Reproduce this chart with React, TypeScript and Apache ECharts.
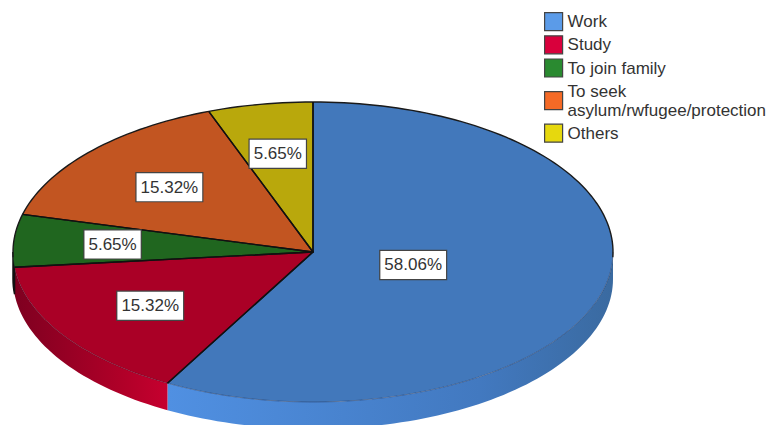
import React, { useEffect, useRef } from "react";
import * as echarts from "echarts";

const categories = ["Work", "Study", "To join family", "To seek\nasylum/rwfugee/protection", "Others"];
const percentages = [58.06, 15.32, 5.65, 15.32, 5.65];
const percentLabels = ["58.06%", "15.32%", "5.65%", "15.32%", "5.65%"];
const labelRadiusFractions = [0.345, 0.65, 0.67, 0.645, 0.665];
const topColors = ["#4278BB", "#AA0026", "#20661F", "#C25521", "#B9A80C"];
const legendColors = ["#5B9BE8", "#D9003C", "#2A8A30", "#F56A26", "#E6D80E"];
const wallStops = [
  ["#5090E2", "#4279C0", "#3A6AA0"],
  ["#7E0020", "#B00028", "#C6002F"],
  ["#111111", "#111111", "#111111"],
  ["#8A3A12", "#8A3A12", "#8A3A12"],
  ["#827608", "#827608", "#827608"],
];

const CX = 313;
const CY = 252;
const RX = 300;
const RY = 150;
const DEPTH = 27;

const total = percentages.reduce((a, b) => a + b, 0);
const rim = (deg: number, dy = 0): number[] => {
  const r = (deg * Math.PI) / 180;
  return [CX + RX * Math.sin(r), CY - RY * Math.cos(r) + dy];
};
const arc = (a: number, b: number, dy = 0): number[][] => {
  const pts: number[][] = [];
  const n = Math.max(1, Math.ceil((b - a) / 1.5));
  for (let i = 0; i <= n; i++) pts.push(rim(a + ((b - a) * i) / n, dy));
  return pts;
};

const sliceSeries = (index: number) => {
  const start = (percentages.slice(0, index).reduce((a, b) => a + b, 0) / total) * 360;
  const end = start + (percentages[index] / total) * 360;
  const mid = (start + end) / 2;
  const renderItem = () => {
    const children: any[] = [];
    // side wall, only on the front half of the disc
    const wa = Math.max(start, 90);
    const wb = Math.min(end, 270);
    if (wb > wa) {
      const upper = arc(wa, wb);
      const lower = arc(wa, wb, DEPTH).reverse();
      const x0 = Math.min(rim(wa)[0], rim(wb)[0]);
      const x1 = Math.max(rim(wa)[0], rim(wb)[0]);
      const isNarrow = wb - wa < 10;
      children.push({
        type: "polygon",
        z2: 0,
        shape: { points: upper.concat(lower) },
        style: {
          fill: new echarts.graphic.LinearGradient(x0, 0, x1, 0, [
            { offset: 0, color: wallStops[index][0] },
            { offset: 0.7, color: wallStops[index][1] },
            { offset: 1, color: wallStops[index][2] },
          ], true),
          stroke: isNarrow ? "#111111" : undefined,
          lineWidth: isNarrow ? 1.5 : 0,
        },
      });
    }
    // top face
    children.push({
      type: "polygon",
      z2: 1,
      shape: { points: [[CX, CY]].concat(arc(start, end)) },
      style: { fill: topColors[index] },
    });
    // faint front rim
    const fa = Math.max(start, 90);
    const fb = Math.min(end, 270);
    if (fb > fa) {
      children.push({
        type: "polyline",
        z2: 2,
        shape: { points: arc(fa, fb) },
        style: { fill: "none", stroke: "rgba(20,20,40,0.4)", lineWidth: 0.8 },
      });
    }
    // dark back rim
    if (start < 92) {
      children.push({
        type: "polyline",
        z2: 3,
        shape: { points: arc(start, Math.min(end, 92)) },
        style: { fill: "none", stroke: "#1A1A1A", lineWidth: 1.4 },
      });
    }
    if (end > 268) {
      children.push({
        type: "polyline",
        z2: 3,
        shape: { points: arc(Math.max(start, 268), end) },
        style: { fill: "none", stroke: "#1A1A1A", lineWidth: 1.4 },
      });
    }
    // radial edges
    children.push({
      type: "polyline",
      z2: 4,
      shape: { points: [rim(start), [CX, CY], rim(end)] },
      style: { fill: "none", stroke: "#111111", lineWidth: 1.4, lineJoin: "round" },
    });
    // percentage label
    const f = labelRadiusFractions[index];
    const lr = (mid * Math.PI) / 180;
    children.push({
      type: "text",
      z2: 10,
      x: CX + RX * f * Math.sin(lr),
      y: CY - RY * f * Math.cos(lr),
      style: {
        text: percentLabels[index],
        fontFamily: "Liberation Sans",
        fontSize: 17,
        fill: "#333333",
        align: "center",
        verticalAlign: "middle",
        backgroundColor: "#FFFFFF",
        borderColor: "#444444",
        borderWidth: 1.2,
        padding: [6, 4, 5, 4],
      },
    });
    return { type: "group", children };
  };
  return {
    type: "custom",
    name: categories[index],
    coordinateSystem: "none",
    silent: true,
    itemStyle: { color: legendColors[index] },
    data: [percentages[index]],
    renderItem,
  };
};

export default function App() {
  const ref = useRef<HTMLDivElement>(null);
  useEffect(() => {
    const chart = echarts.init(ref.current!, undefined, { renderer: "svg" });
    chart.setOption({
      animation: false,
      backgroundColor: "#FFFFFF",
      legend: {
        orient: "vertical",
        left: 544,
        top: 12,
        padding: 0,
        itemGap: 4,
        itemWidth: 18,
        itemHeight: 18,
        selectedMode: false,
        icon: "rect",
        textStyle: { fontFamily: "Liberation Sans", fontSize: 17, color: "#333333", lineHeight: 19 },
        data: categories.map((name, i) => ({
          name,
          icon: "rect",
          itemStyle: { color: legendColors[i], borderColor: "#444444", borderWidth: 1.2 },
        })),
      },
      series: categories.map((_, i) => sliceSeries(i)),
    });
    return () => chart.dispose();
  }, []);
  return (
    <div
      ref={ref}
      style={{ position: "absolute", left: 0, top: 0, width: 770, height: 425, overflow: "hidden" }}
    />
  );
}
